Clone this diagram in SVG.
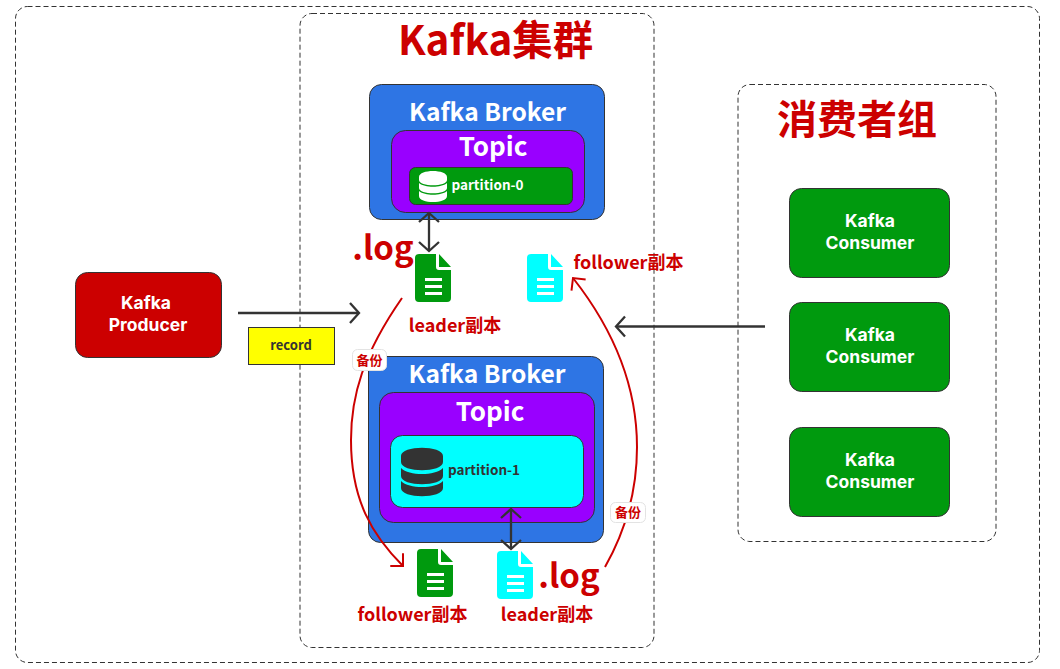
<svg xmlns="http://www.w3.org/2000/svg" width="1060" height="669" viewBox="0 0 1060 669">
<style>
text{font-family:"Noto Sans CJK SC","Noto Sans",sans-serif;font-weight:700;text-anchor:middle}
text.lbl{font-family:Inter,"Noto Sans",sans-serif;font-size:17.500px}
.box{stroke:#333;stroke-width:1}
.dash{fill:#fff;stroke:#333;stroke-width:1;stroke-dasharray:5 3}
.w{fill:#fff}.r{fill:#c00}.d{fill:#333}
.ln{fill:none;stroke:#333;stroke-width:2.300}
.cv{fill:none;stroke:#c00;stroke-width:2}
.tag{fill:#fff;stroke:#e3e3e3;stroke-width:1}
</style>
<defs>
<marker id="ad" markerUnits="userSpaceOnUse" markerWidth="24" markerHeight="24" refX="11" refY="12" orient="auto-start-reverse" overflow="visible"><path d="M2,2 L11,12 L2,22" fill="none" stroke="#333" stroke-width="2.300"/></marker>
<marker id="ar" markerUnits="userSpaceOnUse" markerWidth="24" markerHeight="24" refX="11" refY="12" orient="auto" overflow="visible"><path d="M2,3 L11,12 L2,21" fill="none" stroke="#c00" stroke-width="2"/></marker>
<g id="doc"><path fill-rule="evenodd" d="M4,0 H21 V13 a3,3 0 0 0 3,3 H36 V44 a4,4 0 0 1 -4,4 H4 a4,4 0 0 1 -4,-4 V4 a4,4 0 0 1 4,-4 Z M24,0 L36,13 H24 Z M10,24 v3 h17 v-3 Z M10,31 v3 h17 v-3 Z M10,38 v3 h17 v-3 Z"/></g>
</defs>
<rect width="1060" height="669" fill="#fff"/>
<g id="outer"><rect class="dash" x="15.500" y="6.500" width="1024" height="656" rx="12"/></g>
<g id="cluster"><rect class="dash" x="300" y="13.500" width="354" height="634" rx="12"/><text class="r" x="495.500" y="55" font-size="40.400">Kafka集群</text></g>
<g id="consumer-group"><rect class="dash" x="738" y="84.500" width="258" height="457" rx="12"/><text class="r" x="857" y="134" font-size="40">消费者组</text></g>
<g id="producer"><rect class="box" x="75.500" y="272.500" width="146" height="85" rx="12" fill="#c00"/><text class="w lbl"><tspan x="146" y="309">Kafka</tspan><tspan x="148" y="331">Producer</tspan></text></g>
<g id="record"><rect class="box" x="248.500" y="327.500" width="86" height="37" fill="#ff0"/><text class="d" x="291" y="350" font-size="13">record</text></g>
<g id="broker-0"><rect class="box" x="369.500" y="84.500" width="235" height="135" rx="12" fill="#2e75e4"/><text class="w" x="487.500" y="121" font-size="24.600">Kafka Broker</text>
<rect class="box" x="391.500" y="130.500" width="193" height="82" rx="14" fill="#90f"/><text class="w" x="493" y="156" font-size="26">Topic</text>
<rect class="box" x="409.500" y="167.500" width="163" height="37" rx="6" fill="#009a0e"/>
<path class="w" d="M419,177 c0,-8 28,-8 28,0 v3 c0,7 -28,7 -28,0 Z M419,183 c6,5 22,5 28,0 v5 c0,7 -28,7 -28,0 Z M419,191 c6,5 22,5 28,0 v5 c0,8 -28,8 -28,0 Z"/>
<text class="w" x="487.500" y="190" font-size="13.500">partition-0</text></g>
<g id="broker-1"><rect class="box" x="368.500" y="356.500" width="235" height="186" rx="12" fill="#2e75e4"/><text class="w" x="487" y="383" font-size="24.600">Kafka Broker</text>
<rect class="box" x="379.500" y="392.500" width="215" height="130" rx="14" fill="#90f"/><text class="w" x="490" y="421" font-size="26">Topic</text>
<rect class="box" x="390.500" y="435.500" width="193" height="72" rx="12" fill="#0ff"/>
<path class="d" d="M401,456 c0,-11 42,-11 42,0 v6 c0,11 -42,11 -42,0 Z M401,468 c8,8 34,8 42,0 v8 c0,11 -42,11 -42,0 Z M401,481 c8,8 34,8 42,0 v7 c0,11 -42,11 -42,0 Z"/>
<text class="d" x="484" y="475" font-size="13.500">partition-1</text></g>
<g id="log-leader-0"><use href="#doc" x="415" y="254" fill="#009a0e"/><text class="r" x="383" y="260" font-size="33">.log</text><text class="r" x="455" y="332" font-size="18">leader副本</text></g>
<g id="log-follower-0"><use href="#doc" x="527" y="254" fill="#0ff"/><text class="r" x="628.500" y="269" font-size="18">follower副本</text></g>
<g id="log-follower-1"><use href="#doc" x="417" y="549" fill="#009a0e"/><text class="r" x="412.500" y="621" font-size="18">follower副本</text></g>
<g id="log-leader-1"><use href="#doc" x="497" y="551" fill="#0ff"/><text class="r" x="569" y="588" font-size="33">.log</text><text class="r" x="547" y="621" font-size="18">leader副本</text></g>
<g id="consumer-0"><rect class="box" x="789.500" y="188.500" width="160" height="89" rx="12" fill="#009a0e"/><text class="w lbl"><tspan x="870" y="227">Kafka</tspan><tspan x="870" y="249">Consumer</tspan></text></g>
<g id="consumer-1"><rect class="box" x="789.500" y="302.500" width="160" height="89" rx="12" fill="#009a0e"/><text class="w lbl"><tspan x="870" y="341">Kafka</tspan><tspan x="870" y="363">Consumer</tspan></text></g>
<g id="consumer-2"><rect class="box" x="789.500" y="427.500" width="160" height="89" rx="12" fill="#009a0e"/><text class="w lbl"><tspan x="870" y="466">Kafka</tspan><tspan x="870" y="488">Consumer</tspan></text></g>
<g id="connectors">
<path class="ln" d="M238,313 H359" marker-end="url(#ad)"/>
<path class="ln" d="M765,326.500 H616" marker-end="url(#ad)"/>
<path class="ln" d="M429,213 V251" marker-start="url(#ad)" marker-end="url(#ad)"/>
<path class="ln" d="M511,509 V549" marker-start="url(#ad)" marker-end="url(#ad)"/>
<path class="cv" d="M402,298 C363,354 351,396 351,440 C351,500 372,535 403,566" marker-end="url(#ar)"/>
<path class="cv" d="M605,567 C626,530 637,490 637,447 C637,380 610,325 573,278" marker-end="url(#ar)"/>
<rect class="tag" x="352.500" y="349.500" width="34" height="21" rx="5"/><text class="r" x="369.500" y="364.500" font-size="13">备份</text>
<rect class="tag" x="610.500" y="502.500" width="35" height="20" rx="5"/><text class="r" x="628" y="517" font-size="13">备份</text>
</g>
</svg>
